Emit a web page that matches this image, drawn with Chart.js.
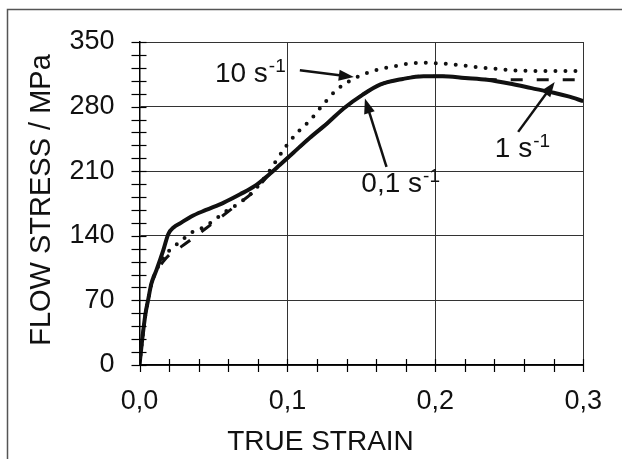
<!DOCTYPE html>
<html>
<head>
<meta charset="utf-8">
<script src="https://cdn.jsdelivr.net/npm/chart.js@4.4.0/dist/chart.umd.min.js"></script>
<style>
  html, body { margin: 0; padding: 0; background: #fff; }
</style>
</head>
<body>
<canvas id="grafico" width="622" height="459"></canvas>
<script>
// curva 0,1 s-1 (linea continua)
const strain01 = [0, 0.002, 0.004, 0.006, 0.008, 0.0115, 0.016, 0.0195, 0.023, 0.028, 0.035, 0.045, 0.057, 0.068, 0.078, 0.088, 0.095, 0.104, 0.115, 0.127, 0.138, 0.151, 0.163, 0.178, 0.192, 0.205, 0.22, 0.235, 0.25, 0.265, 0.28, 0.29, 0.3];
const stress01 = [0, 30, 55, 72, 88, 103, 124, 142, 149, 154, 161, 168, 176, 185, 194, 207, 217, 230, 246, 262, 278, 293, 304, 310, 313, 313, 311, 309, 305, 300, 295, 291, 286];

// curva 1 s-1 (discontinua)
const strain1 = [0, 0.002, 0.004, 0.006, 0.008, 0.0115, 0.016, 0.0206, 0.028, 0.035, 0.049, 0.063, 0.078, 0.088, 0.095, 0.104, 0.115, 0.127, 0.138, 0.151, 0.163, 0.178, 0.192, 0.205, 0.22, 0.235, 0.25, 0.27, 0.295];
const stress1 = [0, 30, 55, 72, 88, 101, 112, 120, 128, 136, 153, 170, 189, 207, 217, 230, 246, 262, 278, 293, 304, 310, 313, 313, 311, 309.5, 309, 309, 309];

// curva 10 s-1 (punteada)
const strain10 = [0, 0.002, 0.004, 0.006, 0.008, 0.0115, 0.015, 0.0184, 0.0228, 0.0285, 0.034, 0.0404, 0.048, 0.058, 0.068, 0.078, 0.0882, 0.0927, 0.0995, 0.1062, 0.1152, 0.123, 0.1332, 0.1434, 0.1557, 0.17, 0.19, 0.21, 0.223, 0.24, 0.257, 0.275, 0.295];
const stress10 = [0, 30, 55, 72, 88, 103, 113, 121, 128, 134.6, 142.6, 147, 154, 166, 176, 190, 211, 222, 238, 251, 265, 280, 298, 309, 317.5, 323, 327.5, 326, 323.7, 321, 319, 318.5, 318.6];

const xTicks = [0, 0.1, 0.2, 0.3];
const yTicks = [0, 70, 140, 210, 280, 350];

// etiquetas de las curvas con su flecha
const etiquetas = [
  { base: '10 s', sup: '-1', x: 0.051, y: 306.7, from: [0.1084, 319.4], to: [0.1449, 312] },
  { base: '0,1 s', sup: '-1', x: 0.150, y: 187.3, from: [0.167, 214.7], to: [0.1524, 288.7] },
  { base: '1 s', sup: '-1', x: 0.2402, y: 225.5, from: [0.256, 252.6], to: [0.2807, 306.7] }
];

const fuente = 'Liberation Sans, Arial, sans-serif';

function puntos(xs, ys) {
  return xs.map((x, i) => ({ x: x, y: ys[i] }));
}

function flecha(ctx, x1, y1, x2, y2) {
  const ang = Math.atan2(y2 - y1, x2 - x1);
  const L = 15, W = 5.5;
  const c = Math.cos(ang), s = Math.sin(ang);
  ctx.beginPath();
  ctx.moveTo(x1, y1);
  ctx.lineTo(x2 - L * 0.7 * c, y2 - L * 0.7 * s);
  ctx.lineWidth = 2.5;
  ctx.stroke();
  ctx.beginPath();
  ctx.moveTo(x2, y2);
  ctx.lineTo(x2 - L * c + W * s, y2 - L * s - W * c);
  ctx.lineTo(x2 - L * c - W * s, y2 - L * s + W * c);
  ctx.closePath();
  ctx.fill();
}

// marco, ticks menores, titulos de ejes y etiquetas
const extras = {
  id: 'extras',
  afterDraw(chart) {
    const ctx = chart.ctx;
    const xs = chart.scales.x, ys = chart.scales.y;
    const area = chart.chartArea;
    ctx.save();

    // marco exterior
    ctx.strokeStyle = '#555';
    ctx.lineWidth = 1.5;
    ctx.strokeRect(7.5, 9.5, 800, 600);

    // ticks del eje y (cada 14)
    ctx.strokeStyle = '#000';
    ctx.lineWidth = 1.2;
    for (let v = 0; v <= 350; v += 14) {
      const py = Math.round(ys.getPixelForValue(v)) + 0.5;
      ctx.beginPath();
      ctx.moveTo(area.left - 8, py);
      ctx.lineTo(area.left + 7, py);
      ctx.stroke();
    }
    // ticks del eje x (cada 0,02)
    for (let i = 0; i <= 15; i++) {
      const px = Math.round(xs.getPixelForValue(i * 0.02)) + 0.5;
      ctx.beginPath();
      ctx.moveTo(px, area.bottom - 6);
      ctx.lineTo(px, area.bottom + 7);
      ctx.stroke();
    }

    // titulos de ejes
    ctx.fillStyle = '#111';
    ctx.font = '28px ' + fuente;
    ctx.textAlign = 'center';
    ctx.textBaseline = 'alphabetic';
    ctx.fillText('TRUE STRAIN', 320.5, 450);
    ctx.save();
    ctx.translate(50, 200);
    ctx.rotate(-Math.PI / 2);
    ctx.font = '29px ' + fuente;
    ctx.fillText('FLOW STRESS / MPa', 0, 0);
    ctx.restore();

    // etiquetas y flechas
    ctx.textAlign = 'left';
    ctx.fillStyle = '#111';
    ctx.strokeStyle = '#111';
    etiquetas.forEach(e => {
      const px = xs.getPixelForValue(e.x);
      const py = ys.getPixelForValue(e.y);
      ctx.font = '28px ' + fuente;
      ctx.fillText(e.base, px, py);
      const w = ctx.measureText(e.base).width;
      ctx.font = '19px ' + fuente;
      ctx.fillText(e.sup, px + w + 1, py - 10);
      flecha(ctx,
        xs.getPixelForValue(e.from[0]), ys.getPixelForValue(e.from[1]),
        xs.getPixelForValue(e.to[0]), ys.getPixelForValue(e.to[1]));
    });

    ctx.restore();
  }
};

new Chart(document.getElementById('grafico'), {
  type: 'line',
  data: {
    datasets: [
      {
        label: '0,1 s-1',
        data: puntos(strain01, stress01),
        borderColor: '#111',
        borderWidth: 4,
        pointRadius: 0,
        cubicInterpolationMode: 'monotone',
        order: 0
      },
      {
        label: '1 s-1',
        data: puntos(strain1, stress1),
        borderColor: '#111',
        borderWidth: 3,
        borderDash: [12, 14],
        pointRadius: 0,
        cubicInterpolationMode: 'monotone',
        order: 1
      },
      {
        label: '10 s-1',
        data: puntos(strain10, stress10),
        borderColor: '#111',
        borderWidth: 4,
        borderDash: [0, 10],
        borderCapStyle: 'round',
        pointRadius: 0,
        cubicInterpolationMode: 'monotone',
        order: 2
      }
    ]
  },
  options: {
    responsive: false,
    devicePixelRatio: 1,
    animation: false,
    layout: { padding: { left: 0, top: 42, right: 38, bottom: 0 } },
    plugins: {
      legend: { display: false },
      tooltip: { enabled: false }
    },
    scales: {
      x: {
        type: 'linear',
        min: 0,
        max: 0.3,
        afterBuildTicks: s => { s.ticks = xTicks.map(v => ({ value: v })); },
        afterFit: s => { s.height = 94; },
        ticks: {
          font: { family: fuente, size: 27 },
          color: '#111',
          padding: 20,
          maxRotation: 0,
          autoSkip: false,
          callback: v => Number(v).toFixed(1).replace('.', ',')
        },
        grid: { color: '#333', lineWidth: 1, drawTicks: false },
        border: { color: '#000', width: 1.5 }
      },
      y: {
        type: 'linear',
        min: 0,
        max: 350,
        afterBuildTicks: s => { s.ticks = yTicks.map(v => ({ value: v })); },
        afterFit: s => { s.width = 139.5; },
        ticks: {
          font: { family: fuente, size: 27 },
          color: '#111',
          padding: 25,
          autoSkip: false,
          callback: v => String(v)
        },
        grid: { color: '#333', lineWidth: 1, drawTicks: false },
        border: { color: '#000', width: 1.5 }
      }
    }
  },
  plugins: [extras]
});
</script>
</body>
</html>
